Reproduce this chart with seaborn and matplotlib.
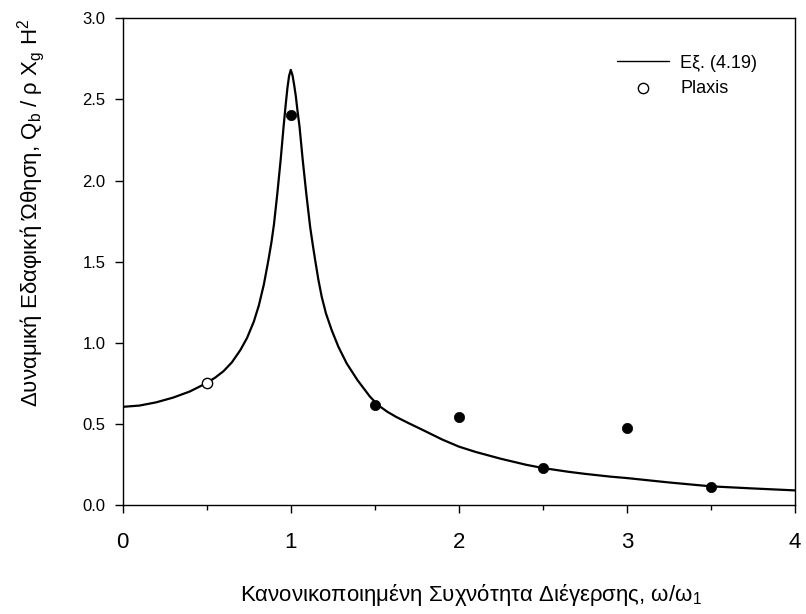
import matplotlib
matplotlib.use("Agg")
import matplotlib.pyplot as plt
import seaborn as sns
import pandas as pd

# ---- data ----
curve_r = [0.0, 0.1, 0.2, 0.3, 0.4, 0.5, 0.55, 0.6, 0.65, 0.7,
           0.74, 0.78, 0.81, 0.84, 0.867, 0.885, 0.9, 0.92, 0.94, 0.957,
           0.97, 0.98, 0.99, 1.0, 1.01, 1.02, 1.03, 1.04, 1.052, 1.071,
           1.092, 1.115, 1.13, 1.145, 1.164, 1.184, 1.209, 1.243, 1.283, 1.332,
           1.396, 1.471, 1.52, 1.574, 1.627, 1.7, 1.8, 1.9, 2.0, 2.1,
           2.25, 2.4, 2.5, 2.65, 2.75, 2.9, 3.0, 3.25, 3.5, 3.75, 4.0]
curve_v = [0.605, 0.613, 0.633, 0.662, 0.70, 0.752, 0.785, 0.825, 0.88, 0.955,
           1.03, 1.13, 1.23, 1.36, 1.51, 1.62, 1.73, 1.92, 2.13, 2.33,
           2.47, 2.57, 2.645, 2.682, 2.65, 2.59, 2.52, 2.43, 2.333, 2.128,
           1.922, 1.716, 1.61, 1.51, 1.39, 1.284, 1.182, 1.079, 0.976, 0.874,
           0.771, 0.668, 0.615, 0.575, 0.543, 0.505, 0.455, 0.404, 0.36, 0.327,
           0.285, 0.248, 0.228, 0.205, 0.192, 0.175, 0.166, 0.139, 0.115, 0.102, 0.09]

plaxis_open_r = [0.5]
plaxis_open_v = [0.75]
plaxis_r = [1.0, 1.5, 2.0, 2.5, 3.0, 3.5]
plaxis_v = [2.405, 0.618, 0.545, 0.225, 0.475, 0.108]

line_label = "Εξ. (4.19)"
point_label = "Plaxis"
x_label = "Κανονικοποιημένη Συχνότητα Διέγερσης, ω/ω$_{1}$"
y_label = "Δυναμική Εδαφική Ώθηση, Q$_{b}$ / ρ X$_{g}$ H$^{2}$"
x_ticks = [0, 1, 2, 3, 4]
y_ticks = [0.0, 0.5, 1.0, 1.5, 2.0, 2.5, 3.0]

# ---- style ----
sns.set_theme(style="ticks")
plt.rcParams["font.family"] = ["Liberation Sans", "DejaVu Sans"]
plt.rcParams["mathtext.fontset"] = "custom"
plt.rcParams["mathtext.rm"] = "Liberation Sans"
plt.rcParams["mathtext.it"] = "Liberation Sans:italic"
plt.rcParams["mathtext.default"] = "regular"

fig = plt.figure(figsize=(8.06, 6.14), dpi=100)
W, H = 806, 614
x0, x1, y0, y1 = 122.7, 795.0, 18.3, 505.0
ax = fig.add_axes([x0 / W, 1 - y1 / H, (x1 - x0) / W, (y1 - y0) / H])

df_curve = pd.DataFrame({"r": curve_r, "v": curve_v})
df_open = pd.DataFrame({"r": plaxis_open_r, "v": plaxis_open_v})
df_pts = pd.DataFrame({"r": plaxis_r, "v": plaxis_v})

sns.lineplot(data=df_curve, x="r", y="v", ax=ax, color="black", lw=1.6,
             label=line_label, sort=False, zorder=2)
sns.scatterplot(data=df_open, x="r", y="v", ax=ax, marker="o", s=55,
                facecolor="white", edgecolor="black", linewidth=1.0,
                label=point_label, zorder=3)
sns.scatterplot(data=df_pts, x="r", y="v", ax=ax, marker="o", s=55,
                color="black", edgecolor="black", linewidth=0.5, zorder=3)

ax.set_xlim(0, 4)
ax.set_ylim(0, 3)
ax.set_xticks(x_ticks)
ax.set_xticks([0.5, 1.5, 2.5, 3.5], minor=True)
ax.set_yticks(y_ticks)
ax.set_yticklabels([f"{t:.1f}" for t in y_ticks])

for s in ax.spines.values():
    s.set_color("black")
    s.set_linewidth(1.0)
ax.tick_params(axis="x", which="major", direction="out", length=5.5, width=1,
               labelsize=16, pad=14, color="black", labelcolor="black")
ax.tick_params(axis="x", which="minor", direction="out", length=3.5, width=1,
               color="black")
ax.tick_params(axis="y", which="major", direction="out", length=5.5, width=1,
               labelsize=12, pad=7, color="black", labelcolor="black")

ax.set_xlabel(x_label, fontsize=16, color="black")
ax.set_ylabel(y_label, fontsize=16, color="black")
ax.xaxis.set_label_coords(0.518, -0.158)
ax.yaxis.set_label_coords(-0.113, 0.60)

leg = ax.legend(loc="upper left", bbox_to_anchor=(0.735, 0.925), frameon=False,
                fontsize=13, handlelength=2.9, handletextpad=0.6,
                labelspacing=0.45, borderpad=0, borderaxespad=0)
for t in leg.get_texts():
    t.set_color("black")
for h in leg.legend_handles:
    try:
        h.set_linewidth(1.0)
    except Exception:
        pass

fig.savefig("out.png", dpi=100, facecolor="white")
